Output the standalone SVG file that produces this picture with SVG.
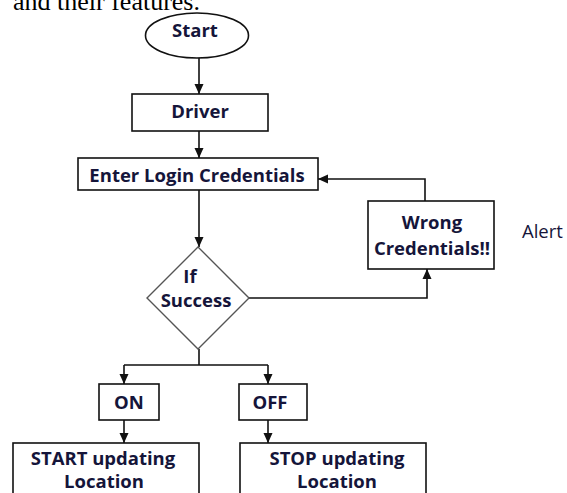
<svg xmlns="http://www.w3.org/2000/svg" width="567" height="493" viewBox="0 0 567 493">
<style>
.bx{fill:#fff;stroke:#111;stroke-width:1.6}
.dm{fill:#fff;stroke:#555;stroke-width:1.4}
.ln{fill:none;stroke:#111;stroke-width:1.6}
.t{font-family:"Open Sans","Liberation Sans",sans-serif;font-weight:bold;font-size:18.5px;fill:#15153a;text-anchor:middle}
.r{font-family:"Open Sans","Liberation Sans",sans-serif;font-size:18.5px;fill:#15153a}
.s{font-family:"Liberation Serif","Times New Roman",serif;font-size:26px;fill:#000}
</style>
<defs>
<marker id="ah" markerUnits="userSpaceOnUse" markerWidth="10" markerHeight="10" viewBox="0 0 10 10" refX="10" refY="5" orient="auto">
<path d="M0,0.5 L10,5 L0,9.5 Z" fill="#111"/>
</marker>
</defs>
<rect width="567" height="493" fill="#fff"/>
<text class="s" x="13" y="10">and their features.</text>
<g id="connectors">
<path class="ln" d="M199,58 V94" marker-end="url(#ah)"/>
<path class="ln" d="M199,131 V158" marker-end="url(#ah)"/>
<path class="ln" d="M199,190 V247" marker-end="url(#ah)"/>
<path class="ln" d="M248,298 H427 V269" marker-end="url(#ah)"/>
<path class="ln" d="M425,201 V179 H318" marker-end="url(#ah)"/>
<path class="ln" d="M199,349 V365 M124,365 H268"/>
<path class="ln" d="M124,365 V384" marker-end="url(#ah)"/>
<path class="ln" d="M268,365 V384" marker-end="url(#ah)"/>
<path class="ln" d="M124,420 V443" marker-end="url(#ah)"/>
<path class="ln" d="M268,420 V443" marker-end="url(#ah)"/>
</g>
<g id="start">
<ellipse class="bx" cx="197" cy="35.5" rx="51.5" ry="22.5"/>
<text class="t" x="195" y="37">Start</text>
</g>
<g id="driver">
<rect class="bx" x="132" y="94" width="136" height="37"/>
<text class="t" x="200" y="118">Driver</text>
</g>
<g id="enter">
<rect class="bx" x="78" y="158" width="240" height="32"/>
<text class="t" x="197" y="182">Enter Login Credentials</text>
</g>
<g id="decision">
<polygon class="dm" points="198,247 249,298 198,349 147,298"/>
<text class="t" x="190" y="283">If</text>
<text class="t" x="196" y="307">Success</text>
</g>
<g id="wrong">
<rect class="bx" x="368" y="201" width="126" height="68"/>
<text class="t" x="432" y="229">Wrong</text>
<text class="t" x="432" y="255">Credentials!!</text>
</g>
<text class="r" x="522" y="238">Alert</text>
<g id="on">
<rect class="bx" x="99" y="384" width="60" height="36"/>
<text class="t" x="129" y="409">ON</text>
</g>
<g id="off">
<rect class="bx" x="239" y="384" width="68" height="36"/>
<text class="t" x="270" y="409">OFF</text>
</g>
<g id="startupd">
<rect class="bx" x="13" y="443" width="186" height="60"/>
<text class="t" x="103" y="465">START updating</text>
<text class="t" x="104" y="488">Location</text>
</g>
<g id="stopupd">
<rect class="bx" x="240" y="443" width="186" height="60"/>
<text class="t" x="337" y="465">STOP updating</text>
<text class="t" x="337" y="488">Location</text>
</g>
</svg>
